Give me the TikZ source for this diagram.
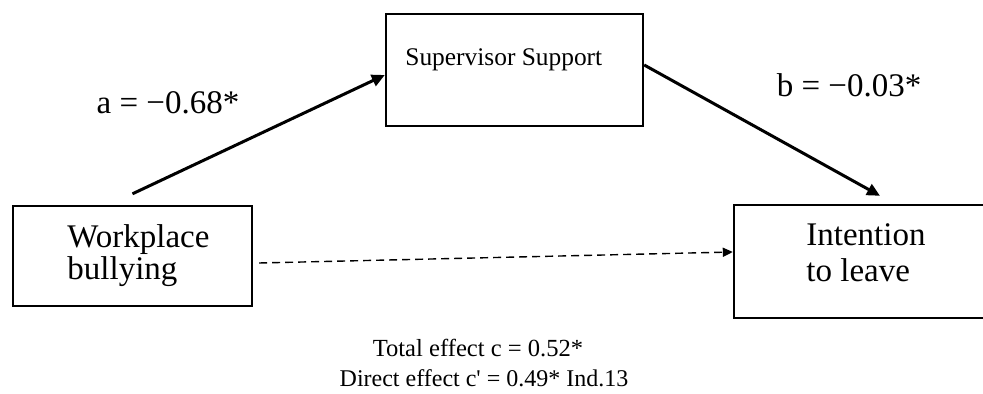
\documentclass[tikz,border=0pt]{standalone}
\usepackage{fontspec}
\setmainfont{Liberation Serif}
\usetikzlibrary{arrows.meta,positioning}

\begin{document}
\begin{tikzpicture}[x=0.5pt,y=-0.5pt,
        box/.style={draw,line width=1.2pt,inner sep=0pt},
        txt/.style={anchor=west,align=left,inner sep=0pt},
        conn/.style={line width=1.5pt,-{Triangle[length=6.5pt,width=6pt]}},
        dconn/.style={line width=0.7pt,dash pattern=on 4pt off 2.5pt,-{Triangle[length=5pt,width=4.5pt]}}]
        \useasboundingbox(0,0)rectangle(983,394);
        \clip(0,0)rectangle(983,394);
        % boxes
        \node[box,minimum width=119.5pt,minimum height=50pt](wb)at(132.5,256){};
        \node[box,minimum width=128.5pt,minimum height=56pt](sup)at(514.5,70){};
        \node[box,minimum width=125.5pt,minimum height=56.5pt](itl)at(859.5,261.5){};
        \node[txt,font=\fontsize{16.5}{16}\selectfont](wbtxt)at(67,256){Workplace\\bullying};
        \node[txt,font=\fontsize{12.7}{14}\selectfont](suptxt)at(405,60){Supervisor Support};
        \node[txt,font=\fontsize{16.5}{18}\selectfont](itltxt)at(806,253){Intention\\to leave};
        % paths
        \draw[conn]([yshift=5.5pt]wb.north)--([yshift=-2.5pt]sup.west);
        \draw[conn]([yshift=2.5pt]sup.east)--([xshift=10.25pt,yshift=4pt]itl.north);
        \draw[dconn]([xshift=3pt,yshift=-3.5pt]wb.east)--([yshift=4.75pt]itl.west);
        \node[font=\fontsize{16.5}{16}\selectfont](alab)at(168,103){a = −0.68*};
        \node[font=\fontsize{16.5}{16}\selectfont](blab)at(849,85){b = −0.03*};
        \node[font=\fontsize{12.3}{13}\selectfont](total)at(478,348){Total effect c = 0.52*};
        \node[font=\fontsize{12}{13}\selectfont](direct)at(484,378){Direct effect c\textquotesingle{} = 0.49* Ind.13};
\end{tikzpicture}
\end{document}
